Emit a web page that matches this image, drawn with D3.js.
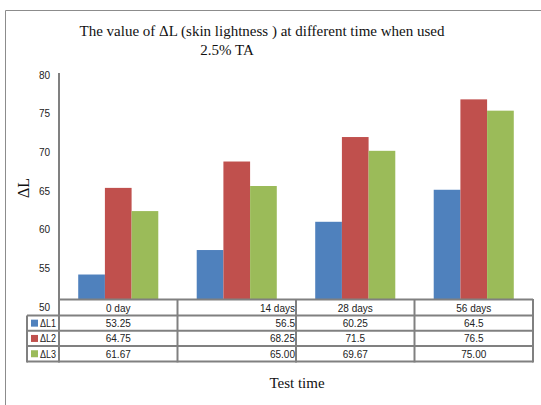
<!DOCTYPE html>
<html>
<head>
<meta charset="utf-8">
<script src="https://cdn.jsdelivr.net/npm/d3@7"></script>
<style>
  body { margin: 0; background: #fff; }
  .small { font-family: "Liberation Sans Narrow", "Arial Narrow", "Liberation Sans", sans-serif; font-size: 10px; fill: #222; }
  .serif { font-family: "Liberation Serif", "Times New Roman", serif; fill: #111; }
</style>
</head>
<body>
<svg id="chart" width="541" height="405"></svg>
<script>
// data
var categories = ["0 day", "14 days", "28 days", "56 days"]
var seriesNames = ["ΔL1", "ΔL2", "ΔL3"]
var dL1 = [53.25, 56.5, 60.25, 64.5]
var dL2 = [64.75, 68.25, 71.5, 76.5]
var dL3 = [61.67, 65.00, 69.67, 75.00]
// as printed in the data table
var dL1Text = ["53.25", "56.5", "60.25", "64.5"]
var dL2Text = ["64.75", "68.25", "71.5", "76.5"]
var dL3Text = ["61.67", "65.00", "69.67", "75.00"]
var yTicks = [50, 55, 60, 65, 70, 75, 80]
var colors = ["#4f81bd", "#c0504d", "#9bbb59"]

var series = [dL1, dL2, dL3]
var seriesText = [dL1Text, dL2Text, dL3Text]

var svg = d3.select("#chart")
var plotL = 59, plotR = 533, plotT = 73, base = 299
var rowH = 15.3, headH = 16.5
var lineCol = "#808080"

// outer frame
svg.append("path")
  .attr("d", "M5.5,405 V10.5 H541")
  .attr("fill", "none")
  .attr("stroke", "#8c8c8c")
  .attr("stroke-width", 1)

var x0 = d3.scaleBand().domain(categories).range([plotL, plotR]).padding(0)
var x1 = d3.scaleBand().domain(seriesNames).range([0, x0.bandwidth()]).paddingOuter(0.72).paddingInner(0)
var y = d3.scaleLinear().domain([50, 80]).range([base, plotT])
// tick labels in the picture are spaced a little wider than the bars' scale
var yLab = d3.scaleLinear().domain([50, 80]).range([307, 75])

// bars
var groups = svg.append("g").selectAll("g")
  .data(categories)
  .join("g")
  .attr("transform", function (d) { return "translate(" + x0(d) + ",0)" })

groups.selectAll("rect")
  .data(function (d, i) {
    return seriesNames.map(function (s, j) { return { s: s, v: series[j][i], c: colors[j] } })
  })
  .join("rect")
  .attr("x", function (d) { return x1(d.s) })
  .attr("width", x1.bandwidth())
  .attr("y", function (d) { return y(d.v) })
  .attr("height", function (d) { return base - y(d.v) })
  .attr("fill", function (d) { return d.c })

// y axis line
svg.append("line")
  .attr("x1", plotL).attr("x2", plotL)
  .attr("y1", plotT).attr("y2", base)
  .attr("stroke", lineCol).attr("stroke-width", 2)

svg.append("g").selectAll("text")
  .data(yTicks)
  .join("text")
  .attr("class", "small")
  .attr("x", 50)
  .attr("y", function (d) { return yLab(d) })
  .attr("dy", "0.35em")
  .attr("text-anchor", "end")
  .text(function (d) { return d })

// data table
var tbl = svg.append("g")
var rowsTop = base + headH
var bottom = rowsTop + rowH * 3

tbl.append("line")
  .attr("x1", plotL).attr("x2", plotR)
  .attr("y1", base + 0.5).attr("y2", base + 0.5)
  .attr("stroke", lineCol).attr("stroke-width", 2)

d3.range(4).forEach(function (i) {
  tbl.append("line")
    .attr("x1", 27).attr("x2", plotR)
    .attr("y1", rowsTop + i * rowH).attr("y2", rowsTop + i * rowH)
    .attr("stroke", lineCol).attr("stroke-width", 2)
})

tbl.selectAll("line.v")
  .data(categories.concat(["end"]))
  .join("line")
  .attr("class", "v")
  .attr("x1", function (d) { return d == "end" ? plotR : x0(d) })
  .attr("x2", function (d) { return d == "end" ? plotR : x0(d) })
  .attr("y1", base).attr("y2", bottom + 1)
  .attr("stroke", lineCol).attr("stroke-width", 2)

tbl.append("line")
  .attr("x1", 27).attr("x2", 27)
  .attr("y1", rowsTop).attr("y2", bottom + 1)
  .attr("stroke", lineCol).attr("stroke-width", 2)

// header labels
tbl.selectAll("text.head")
  .data(categories)
  .join("text")
  .attr("class", "small head")
  .attr("x", function (d, i) { return i == 1 ? x0(d) + x0.bandwidth() - 1 : x0(d) + x0.bandwidth() / 2 })
  .attr("y", base + headH / 2 + 1)
  .attr("dy", "0.35em")
  .attr("text-anchor", function (d, i) { return i == 1 ? "end" : "middle" })
  .text(function (d) { return d })

// value rows
seriesNames.forEach(function (s, j) {
  var cy = rowsTop + rowH * j + rowH / 2 + 0.5
  tbl.append("rect")
    .attr("x", 31).attr("y", cy - 4)
    .attr("width", 7).attr("height", 7)
    .attr("fill", colors[j])
  tbl.append("text")
    .attr("class", "small")
    .attr("x", 40).attr("y", cy)
    .attr("dy", "0.35em")
    .attr("textLength", 16)
    .attr("lengthAdjust", "spacingAndGlyphs")
    .text(s)
  tbl.selectAll("text.r" + j)
    .data(categories)
    .join("text")
    .attr("class", "small r" + j)
    .attr("x", function (d, i) { return i == 1 ? x0(d) + x0.bandwidth() - 1 : x0(d) + x0.bandwidth() / 2 })
    .attr("y", cy)
    .attr("dy", "0.35em")
    .attr("text-anchor", function (d, i) { return i == 1 ? "end" : "middle" })
    .text(function (d, i) { return seriesText[j][i] })
})

// titles
svg.append("text")
  .attr("class", "serif")
  .attr("x", 262).attr("y", 36)
  .attr("text-anchor", "middle")
  .attr("font-size", 15)
  .text("The value of ΔL (skin lightness ) at different time when used")
svg.append("text")
  .attr("class", "serif")
  .attr("x", 227).attr("y", 55)
  .attr("text-anchor", "middle")
  .attr("font-size", 15)
  .text("2.5% TA")

svg.append("text")
  .attr("class", "serif")
  .attr("transform", "translate(29,188) rotate(-90)")
  .attr("text-anchor", "middle")
  .attr("font-size", 16)
  .text("ΔL")

svg.append("text")
  .attr("class", "serif")
  .attr("x", 297).attr("y", 388)
  .attr("text-anchor", "middle")
  .attr("font-size", 15)
  .text("Test time")
</script>
</body>
</html>
